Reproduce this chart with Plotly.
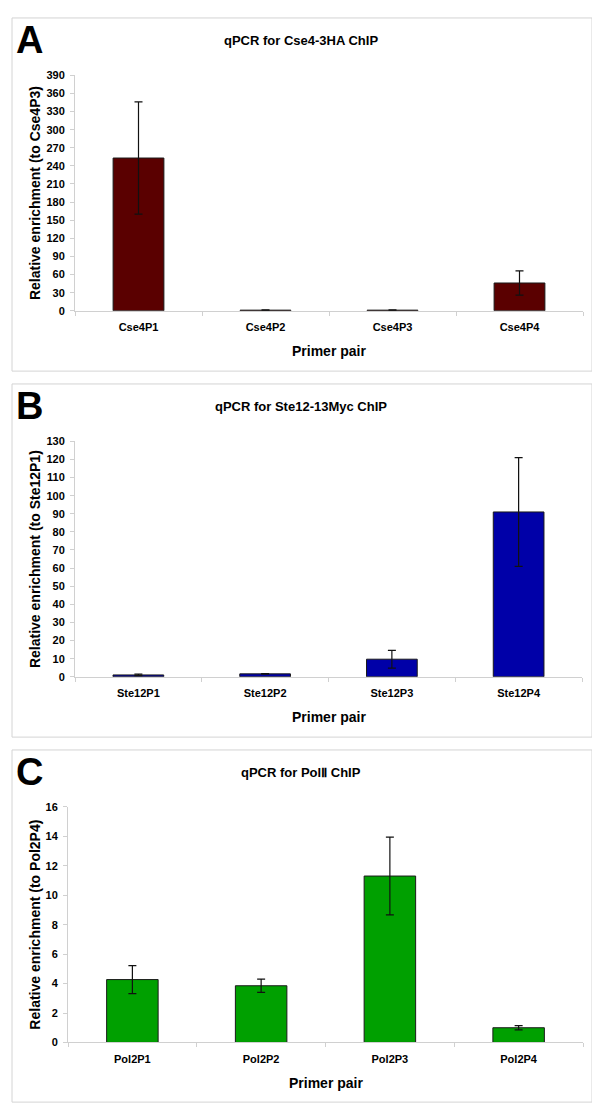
import plotly.graph_objects as go

# ---- data ----
cse4_labels = ["Cse4P1", "Cse4P2", "Cse4P3", "Cse4P4"]
cse4_values = [253, 1, 1, 46]
cse4_errors = [93, 0.3, 0.3, 20]

ste12_labels = ["Ste12P1", "Ste12P2", "Ste12P3", "Ste12P4"]
ste12_values = [1.0, 1.6, 9.7, 91]
ste12_errors = [0.4, 0.2, 4.9, 30]

pol2_labels = ["Pol2P1", "Pol2P2", "Pol2P3", "Pol2P4"]
pol2_values = [4.27, 3.85, 11.3, 1.0]
pol2_errors = [0.95, 0.45, 2.64, 0.15]

panel_letters = ["A", "B", "C"]
panel_titles = ["qPCR for Cse4-3HA ChIP", "qPCR for Ste12-13Myc ChIP", "qPCR for Pol\u2161 ChIP"]
y_titles = ["Relative enrichment (to Cse4P3)", "Relative enrichment (to Ste12P1)",
            "Relative enrichment (to Pol2P4)"]
x_title = "Primer pair"
y_ranges = [[0, 390], [0, 130], [0, 16]]
y_dticks = [30, 10, 2]
colors = ["#5a0000", "#0000a8", "#00a000"]

# page is 600x1118; the html body has an 8px margin, so the figure is smaller
OFF = 8
W, H = 600 - OFF, 1118 - OFF
FONT = "Liberation Sans, Arial, sans-serif"

# layout in page pixels: (x0, x1, ytop, ybottom) of plot areas, and panel boxes
plots = [(75, 583, 70, 308), (75, 582, 440, 678), (68, 583, 809.5, 1047.7)]
boxes = [(12, 592, 12, 369), (12, 592, 382, 739), (12, 592, 752, 1108)]


def px(x):
    return (x - OFF) / W


def py(y):
    return 1 - (y - OFF) / H


fig = go.Figure()
series = [(cse4_labels, cse4_values, cse4_errors),
          (ste12_labels, ste12_values, ste12_errors),
          (pol2_labels, pol2_values, pol2_errors)]

shapes = []
annotations = []
for i, (labels, vals, errs) in enumerate(series):
    sfx = "" if i == 0 else str(i + 1)
    fig.add_trace(go.Bar(
        x=labels, y=vals,
        xaxis="x" + sfx, yaxis="y" + sfx,
        marker=dict(color=colors[i], line=dict(color="#1a1a1a", width=1)),
        error_y=dict(type="data", array=errs, visible=True, color="#111111",
                     thickness=1.2, width=4),
        showlegend=False,
    ))
    x0, x1, yt, yb = plots[i]
    axis_common = dict(showline=True, linecolor="#d0d0d0", linewidth=1,
                       showgrid=False, zeroline=False, ticks="outside",
                       ticklen=4, tickcolor="#d0d0d0",
                       tickfont=dict(family=FONT, size=11, color="#000000", weight="bold"))
    fig.update_layout(**{
        "xaxis" + sfx: dict(domain=[px(x0), px(x1)], anchor="y" + sfx,
                            tickson="boundaries", ticklabelstandoff=6, **axis_common),
        "yaxis" + sfx: dict(domain=[py(yb), py(yt)], anchor="x" + sfx,
                            range=y_ranges[i], dtick=y_dticks[i], tick0=0,
                            ticklabelstandoff=3, **axis_common),
    })
    bx0, bx1, byt, byb = boxes[i]
    shapes.append(dict(type="rect", xref="paper", yref="paper",
                       x0=px(bx0), x1=px(bx1), y0=py(byb), y1=py(byt),
                       line=dict(color="#d4d4d4", width=1), fillcolor="rgba(0,0,0,0)"))
    # panel letter
    annotations.append(dict(text=panel_letters[i], xref="paper", yref="paper",
                            x=px(14), y=py(byt + 22), xanchor="left", yanchor="middle",
                            showarrow=False,
                            font=dict(family=FONT, size=38, color="#000000", weight="bold")))
    # title
    annotations.append(dict(text=panel_titles[i], xref="paper", yref="paper",
                            x=px(301), y=py(byt + 23), xanchor="center", yanchor="middle",
                            showarrow=False,
                            font=dict(family=FONT, size=13, color="#000000", weight="bold")))
    # y title
    annotations.append(dict(text=y_titles[i], xref="paper", yref="paper",
                            x=px(35), y=py((yt + yb) / 2), xanchor="center", yanchor="middle",
                            textangle=-90, showarrow=False,
                            font=dict(family=FONT, size=14, color="#000000", weight="bold")))
    # x title
    annotations.append(dict(text=x_title, xref="paper", yref="paper",
                            x=px((x0 + x1) / 2), y=py(yb + 41), xanchor="center", yanchor="middle",
                            showarrow=False,
                            font=dict(family=FONT, size=14, color="#000000", weight="bold")))

fig.update_layout(
    width=W, height=H,
    margin=dict(l=0, r=0, t=0, b=0),
    paper_bgcolor="white", plot_bgcolor="white",
    bargap=0.6,
    shapes=shapes, annotations=annotations,
)

fig.write_html("out.html")
